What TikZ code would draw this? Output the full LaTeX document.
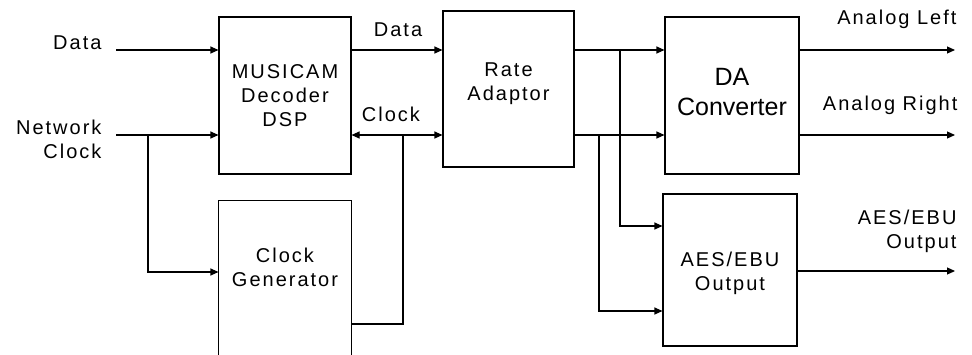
\documentclass[tikz,border=0pt]{standalone}
\usepackage{fontspec}
\setmainfont{Liberation Sans}[LetterSpace=10]
\newfontfamily\dafont{Liberation Sans}
\usetikzlibrary{arrows.meta}
\begin{document}
\begin{tikzpicture}[x=1pt,y=-1pt,line width=1.1pt,
  blk/.style={draw, rectangle, inner sep=0pt},
  lbl/.style={font=\fontsize{20}{24}\selectfont, inner sep=0pt, align=center},
  arr/.style={-{Triangle[length=8pt,width=7pt]}},
  barr/.style={{Triangle[length=8pt,width=7pt]}-{Triangle[length=8pt,width=7pt]}}]
\useasboundingbox (0,0) rectangle (972,354);
% boxes
\node[blk, minimum width=132pt, minimum height=157pt] (dsp) at (285,95.5) {};
\node[rectangle, inner sep=0pt, minimum width=132pt, minimum height=153pt] (cg) at (285,277.5) {};
\draw (cg.south west) -- (cg.north west) -- (cg.north east) -- (cg.south east);
\node[blk, minimum width=131pt, minimum height=156pt] (ra) at (508.5,89) {};
\node[blk, minimum width=134pt, minimum height=157pt] (da) at (732,95.5) {};
\node[blk, minimum width=134pt, minimum height=152pt] (aes) at (730,270) {};
% box texts
\node[lbl] (dspt) at (285,95.8) {MUSICAM\\Decoder\\DSP};
\node[lbl] (cgt) at (285,267) {Clock\\Generator};
\node[lbl] (rat) at (508.5,83.5) {Rate\\Adaptor};
\node[lbl, font=\dafont\fontsize{25}{30}\selectfont] (dat) at (732,92) {DA\\Converter};
\node[lbl] (aest) at (730,273.3) {AES/EBU\\Output};
% outside labels
\node[lbl, anchor=base east] (tdata) at (102,49) {Data};
\node[lbl, align=right, anchor=east] (tnc) at (102,139.3) {Network\\Clock};
\node[lbl, anchor=base] (tdata2) at (398,36) {Data};
\node[lbl, anchor=base] (tclk) at (391,121.7) {Clock};
\node[lbl, anchor=base east] (tal) at (957,24.5) {Analog Left};
\node[lbl, anchor=base east] (tar) at (958,110) {Analog Right};
\node[lbl, align=right, anchor=east] (taes) at (957,231) {AES/EBU\\Output};
% coordinates
\coordinate (yD) at (0,50);
\coordinate (yC) at (0,135);
\coordinate (din) at (116,50);
\coordinate (ncin) at (116,135);
\coordinate (ncj) at (148,135);
\coordinate (yG) at (0,272);
\coordinate (clkj) at (403,135);
\coordinate (yCG) at (0,324);
\coordinate (j1) at (620,50);
\coordinate (j2) at (599,135);
\coordinate (yA1) at (0,226);
\coordinate (yA2) at (0,311);
\coordinate (outL) at (955,50);
\coordinate (outR) at (955,135);
\coordinate (yAO) at (0,271);
\coordinate (outA) at (955,271);
% connectors
\draw[arr] (din) -- (din -| dsp.west);
\draw[arr] (ncin) -- (ncin -| dsp.west);
\draw[arr] (ncj) |- (yG -| cg.west);
\draw[arr] (dsp.east |- yD) -- (ra.west |- yD);
\draw[barr] (dsp.east |- yC) -- (ra.west |- yC);
\draw (cg.east |- yCG) -| (clkj);
\draw[arr] (ra.east |- yD) -- (da.west |- yD);
\draw[arr] (ra.east |- yC) -- (da.west |- yC);
\draw[arr] (j1) |- (yA1 -| aes.west);
\draw[arr] (j2) |- (yA2 -| aes.west);
\draw[arr] (da.east |- yD) -- (outL);
\draw[arr] (da.east |- yC) -- (outR);
\draw[arr] (aes.east |- yAO) -- (outA);
\end{tikzpicture}
\end{document}
